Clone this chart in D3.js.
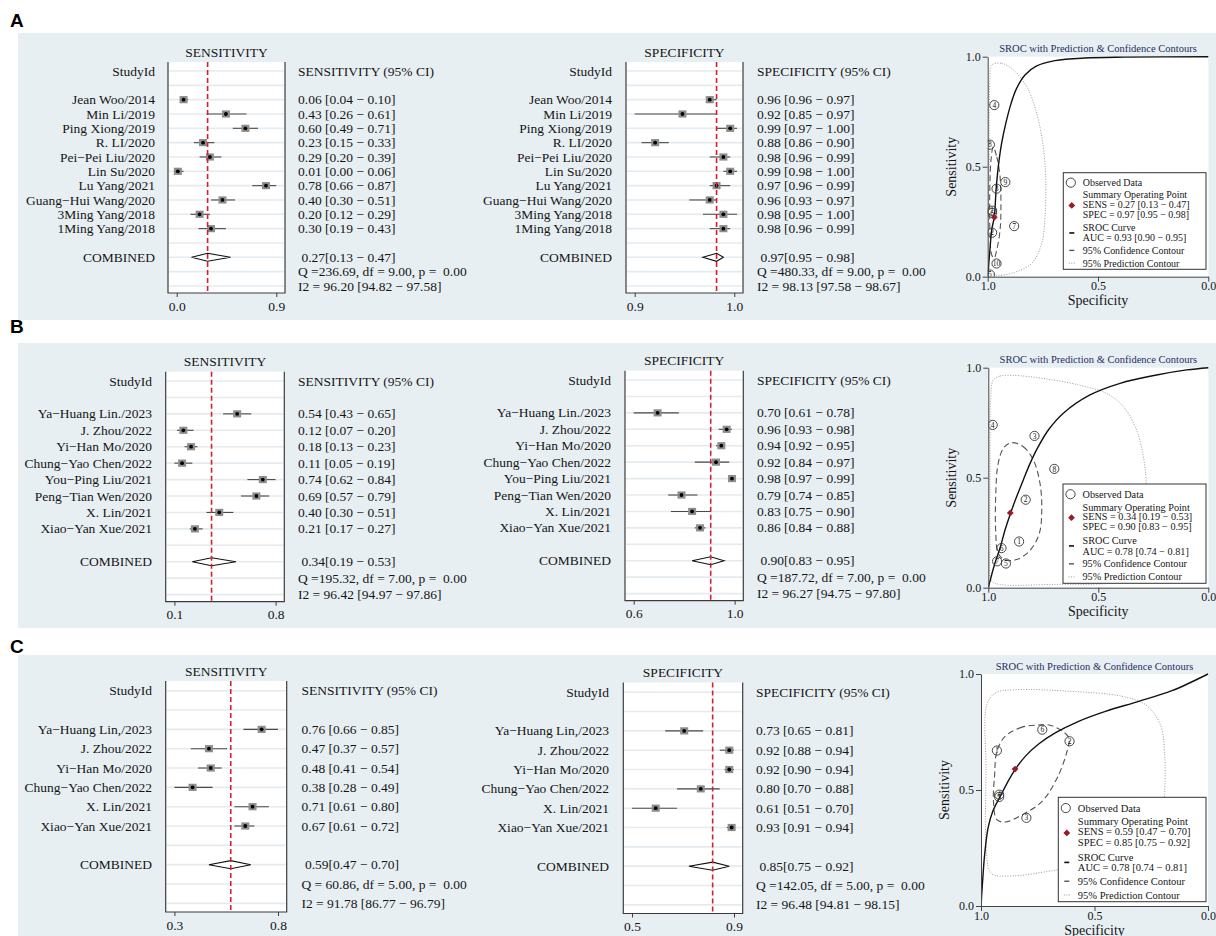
<!DOCTYPE html>
<html lang="en">
<head>
<meta charset="UTF-8">
<title>Forest plots and SROC curves</title>
<script src="https://cdn.jsdelivr.net/npm/d3@7.9.0/dist/d3.min.js"></script>
<style>
    body { margin: 0; background: #fff; }
    svg { display: block; }
    text {
        font-family: "Liberation Serif", "Times New Roman", serif;
        fill: #151515;
        white-space: pre;
    }
    .letter {
        font-family: "Liberation Sans", Arial, sans-serif;
        font-weight: bold;
        font-size: 19px;
        fill: #000;
    }
</style>
</head>
<body>
<svg id="fig" width="1216" height="936"></svg>
<script>
// ---------- Panel A ----------
const studiesA = ["Jean Woo/2014", "Min Li/2019", "Ping Xiong/2019", "R. LI/2020", "Pei−Pei Liu/2020",
    "Lin Su/2020", "Lu Yang/2021", "Guang−Hui Wang/2020", "3Ming Yang/2018", "1Ming Yang/2018"];
const sensA   = [0.06, 0.43, 0.60, 0.23, 0.29, 0.01, 0.78, 0.40, 0.20, 0.30];
const sensLoA = [0.04, 0.26, 0.49, 0.15, 0.20, 0.00, 0.66, 0.30, 0.12, 0.19];
const sensHiA = [0.10, 0.61, 0.71, 0.33, 0.39, 0.06, 0.87, 0.51, 0.29, 0.43];
const specA   = [0.96, 0.92, 0.99, 0.88, 0.98, 0.99, 0.97, 0.96, 0.98, 0.98];
const specLoA = [0.96, 0.85, 0.97, 0.86, 0.96, 0.98, 0.96, 0.93, 0.95, 0.96];
const specHiA = [0.97, 0.97, 1.00, 0.90, 0.99, 1.00, 0.99, 0.97, 1.00, 0.99];
const pooledSensA = [0.27, 0.13, 0.47];
const pooledSpecA = [0.97, 0.95, 0.98];
const qSensA = [236.69, 9.00, 0.00], i2SensA = [96.20, 94.82, 97.58];
const qSpecA = [480.33, 9.00, 0.00], i2SpecA = [98.13, 97.58, 98.67];
const sensTicksA = [0.00, 0.87], sensTickLabelsA = ["0.0", "0.9"];
const specTicksA = [0.85, 0.996], specTickLabelsA = ["0.9", "1.0"];
const aucA = [0.93, 0.90, 0.95];
// SROC curve and contours as (specificity, sensitivity)
const curveSpecA = [1.0, 0.990, 0.982, 0.970, 0.962, 0.952, 0.937, 0.918, 0.894, 0.869, 0.831, 0.778, 0.695, 0.559, 0.378, 0.0];
const curveSensA = [0.0, 0.121, 0.212, 0.273, 0.394, 0.500, 0.606, 0.697, 0.788, 0.856, 0.917, 0.958, 0.982, 0.994, 0.998, 1.0];
const confSpecA = [0.975, 0.959, 0.944, 0.940, 0.944, 0.959, 0.971, 0.982, 0.989, 0.991, 0.990, 0.985];
const confSensA = [0.590, 0.545, 0.455, 0.318, 0.212, 0.121, 0.084, 0.100, 0.180, 0.300, 0.420, 0.530];
const predSpecA = [0.982, 0.937, 0.884, 0.823, 0.778, 0.748, 0.737, 0.740, 0.755, 0.800, 0.884, 0.967, 0.990, 0.993, 0.990];
const predSensA = [0.962, 0.970, 0.940, 0.864, 0.743, 0.590, 0.440, 0.273, 0.152, 0.061, 0.018, 0.008, 0.030, 0.515, 0.894];

// ---------- Panel B ----------
const studiesB = ["Ya−Huang Lin./2023", "J. Zhou/2022", "Yi−Han Mo/2020", "Chung−Yao Chen/2022",
    "You−Ping Liu/2021", "Peng−Tian Wen/2020", "X. Lin/2021", "Xiao−Yan Xue/2021"];
const sensB   = [0.54, 0.12, 0.18, 0.11, 0.74, 0.69, 0.40, 0.21];
const sensLoB = [0.43, 0.07, 0.13, 0.05, 0.62, 0.57, 0.30, 0.17];
const sensHiB = [0.65, 0.20, 0.23, 0.19, 0.84, 0.79, 0.51, 0.27];
const specB   = [0.70, 0.96, 0.94, 0.92, 0.98, 0.79, 0.83, 0.86];
const specLoB = [0.61, 0.93, 0.92, 0.84, 0.97, 0.74, 0.75, 0.84];
const specHiB = [0.78, 0.98, 0.95, 0.97, 0.99, 0.85, 0.90, 0.88];
const pooledSensB = [0.34, 0.19, 0.53];
const pooledSpecB = [0.90, 0.83, 0.95];
const qSensB = [195.32, 7.00, 0.00], i2SensB = [96.42, 94.97, 97.86];
const qSpecB = [187.72, 7.00, 0.00], i2SpecB = [96.27, 94.75, 97.80];
const sensTicksB = [0.05, 0.84], sensTickLabelsB = ["0.1", "0.8"];
const specTicksB = [0.61, 0.99], specTickLabelsB = ["0.6", "1.0"];
const aucB = [0.78, 0.74, 0.81];
const curveSpecB = [1.0, 0.970, 0.947, 0.924, 0.898, 0.871, 0.841, 0.810, 0.773, 0.727, 0.659, 0.538, 0.401, 0.235, 0.098, 0.0];
const curveSensB = [0.0, 0.111, 0.179, 0.262, 0.341, 0.414, 0.490, 0.565, 0.641, 0.717, 0.793, 0.876, 0.929, 0.967, 0.990, 1.0];
const confSpecB = [0.894, 0.841, 0.795, 0.765, 0.757, 0.768, 0.810, 0.871, 0.924, 0.955, 0.966, 0.966, 0.955, 0.929];
const confSensB = [0.659, 0.641, 0.580, 0.474, 0.353, 0.247, 0.170, 0.128, 0.126, 0.156, 0.247, 0.429, 0.565, 0.637];
const predSpecB = [0.977, 0.947, 0.886, 0.735, 0.583, 0.462, 0.386, 0.326, 0.295, 0.283, 0.285, 0.300, 0.350, 0.450, 0.700, 0.950, 0.985, 0.992, 0.992, 0.990];
const predSensB = [0.944, 0.962, 0.965, 0.949, 0.920, 0.883, 0.823, 0.717, 0.595, 0.490, 0.300, 0.120, 0.040, 0.020, 0.015, 0.015, 0.030, 0.200, 0.600, 0.850];

// ---------- Panel C ----------
const studiesC = ["Ya−Huang Lin,/2023", "J. Zhou/2022", "Yi−Han Mo/2020", "Chung−Yao Chen/2022",
    "X. Lin/2021", "Xiao−Yan Xue/2021"];
const sensC   = [0.76, 0.47, 0.48, 0.38, 0.71, 0.67];
const sensLoC = [0.66, 0.37, 0.41, 0.28, 0.61, 0.61];
const sensHiC = [0.85, 0.57, 0.54, 0.49, 0.80, 0.72];
const specC   = [0.73, 0.92, 0.92, 0.80, 0.61, 0.93];
const specLoC = [0.65, 0.88, 0.90, 0.70, 0.51, 0.91];
const specHiC = [0.81, 0.94, 0.94, 0.88, 0.70, 0.94];
const pooledSensC = [0.59, 0.47, 0.70];
const pooledSpecC = [0.85, 0.75, 0.92];
const qSensC = [60.86, 5.00, 0.00], i2SensC = [91.78, 86.77, 96.79];
const qSpecC = [142.05, 5.00, 0.00], i2SpecC = [96.48, 94.81, 98.15];
const sensTicksC = [0.28, 0.85], sensTickLabelsC = ["0.3", "0.8"];
const specTicksC = [0.51, 0.94], specTickLabelsC = ["0.5", "0.9"];
const aucC = [0.78, 0.74, 0.81];
const curveSpecC = [1.0, 0.993, 0.984, 0.969, 0.948, 0.915, 0.885, 0.852, 0.805, 0.746, 0.673, 0.570, 0.452, 0.305, 0.159, 0.0];
const curveSensC = [0.0, 0.106, 0.221, 0.336, 0.408, 0.473, 0.530, 0.585, 0.645, 0.698, 0.746, 0.796, 0.839, 0.882, 0.928, 1.0];
const confSpecC = [0.746, 0.819, 0.893, 0.930, 0.940, 0.945, 0.930, 0.893, 0.819, 0.731, 0.665, 0.621, 0.613, 0.650, 0.701];
const confSensC = [0.780, 0.771, 0.732, 0.667, 0.566, 0.451, 0.372, 0.362, 0.393, 0.451, 0.551, 0.667, 0.724, 0.759, 0.780];
const predSpecC = [0.974, 0.937, 0.849, 0.599, 0.379, 0.276, 0.210, 0.191, 0.191, 0.200, 0.260, 0.450, 0.668, 0.859, 0.955, 0.975, 0.978];
const predSensC = [0.868, 0.918, 0.932, 0.925, 0.904, 0.868, 0.782, 0.652, 0.480, 0.350, 0.250, 0.190, 0.155, 0.130, 0.140, 0.220, 0.594];

// ---------- layout ----------
const svg = d3.select("#fig");
const f2 = d3.format(".2f");
const redLine = "#d3202d";
const markRed = "#9a1b24";

const panels = [
    {
        letter: "A", letterY: 27, bg: [18, 33, 1198, 287],
        studies: studiesA,
        sens: {est: sensA, lo: sensLoA, hi: sensHiA, pooled: pooledSensA, q: qSensA, i2: i2SensA,
               ticks: sensTicksA, tickLabels: sensTickLabelsA},
        spec: {est: specA, lo: specLoA, hi: specHiA, pooled: pooledSpecA, q: qSpecA, i2: i2SpecA,
               ticks: specTicksA, tickLabels: specTickLabelsA},
        rows: {y0: 71, step: 14.33, top: 62, bot: 293},
        sensBox: [168, 285], sensLabelX: 155, sensCiX: 298,
        specBox: [626, 743], specLabelX: 612, specCiX: 757, specDy: 0,
        auc: aucA,
        curve: [curveSpecA, curveSensA], conf: [confSpecA, confSensA], pred: [predSpecA, predSensA],
        sroc: {x0: 987.7, x1: 1208.3, yTop: 56.7, yBot: 276.7, leg: [1063.3, 172.7, 142.7, 96.6]}
    },
    {
        letter: "B", letterY: 333, bg: [18, 343, 1198, 285],
        studies: studiesB,
        sens: {est: sensB, lo: sensLoB, hi: sensHiB, pooled: pooledSensB, q: qSensB, i2: i2SensB,
               ticks: sensTicksB, tickLabels: sensTickLabelsB},
        spec: {est: specB, lo: specLoB, hi: specHiB, pooled: pooledSpecB, q: qSpecB, i2: i2SpecB,
               ticks: specTicksB, tickLabels: specTickLabelsB},
        rows: {y0: 381, step: 16.43, top: 371.7, bot: 601.7},
        sensBox: [165.7, 284.3], sensLabelX: 152, sensCiX: 298,
        specBox: [625, 743.3], specLabelX: 611, specCiX: 757, specDy: -1,
        auc: aucB,
        curve: [curveSpecB, curveSensB], conf: [confSpecB, confSensB], pred: [predSpecB, predSensB],
        sroc: {x0: 988.3, x1: 1208.3, yTop: 367.7, yBot: 587.7, leg: [1063, 484, 143, 99.3]}
    },
    {
        letter: "C", letterY: 653, bg: [18, 655, 1198, 281],
        studies: studiesC,
        sens: {est: sensC, lo: sensLoC, hi: sensHiC, pooled: pooledSensC, q: qSensC, i2: i2SensC,
               ticks: sensTicksC, tickLabels: sensTickLabelsC},
        spec: {est: specC, lo: specLoC, hi: specHiC, pooled: pooledSpecC, q: qSpecC, i2: i2SpecC,
               ticks: specTicksC, tickLabels: specTickLabelsC},
        rows: {y0: 690.7, step: 19.33, top: 681, bot: 912},
        sensBox: [165.7, 286.7], sensLabelX: 152, sensCiX: 301.5,
        specBox: [623.3, 742.7], specLabelX: 609, specCiX: 756, specDy: 1.5,
        auc: aucC,
        curve: [curveSpecC, curveSensC], conf: [confSpecC, confSensC], pred: [predSpecC, predSensC],
        sroc: {x0: 981, x1: 1208, yTop: 674, yBot: 906, leg: [1058.3, 797.3, 147.7, 104.4]}
    }
];

panels.forEach(p => {
    svg.append("rect")
        .attr("x", p.bg[0]).attr("y", p.bg[1]).attr("width", p.bg[2]).attr("height", p.bg[3])
        .attr("fill", "#e8eff3");
    svg.append("text").attr("class", "letter").attr("x", 10).attr("y", p.letterY).text(p.letter);

    drawForest(svg.append("g"), {
        title: "SENSITIVITY", labels: p.studies, ...p.sens,
        box: p.sensBox, labelX: p.sensLabelX, ciX: p.sensCiX, rows: p.rows, dy: 0
    });
    drawForest(svg.append("g"), {
        title: "SPECIFICITY", labels: p.studies, ...p.spec,
        box: p.specBox, labelX: p.specLabelX, ciX: p.specCiX, rows: p.rows, dy: p.specDy
    });
    drawSroc(svg.append("g"), p);
});

// ---------- forest plot ----------
function drawForest(g, o) {
    const n = o.labels.length;
    const fs = 13.5;
    const base = fs * 0.34;
    const rowY = i => o.rows.y0 + o.dy + i * o.rows.step;
    const top = o.rows.top + o.dy, bot = o.rows.bot + o.dy;
    const [bl, br] = o.box;
    const x = d3.scaleLinear().domain(o.ticks).range([bl + 8.7, br - 8.7]);

    g.append("rect").attr("x", bl).attr("y", top).attr("width", br - bl).attr("height", bot - top)
        .attr("fill", "#fff");

    // faint row lines
    g.append("g").selectAll("line").data(d3.range(n + 6)).join("line")
        .attr("x1", bl + 1).attr("x2", br - 1)
        .attr("y1", rowY).attr("y2", rowY)
        .attr("stroke", "#e3ebf0").attr("stroke-width", 1.6);

    // box frame: left, bottom, right
    g.append("path")
        .attr("d", `M${bl},${top}V${bot}H${br}V${top}`)
        .attr("fill", "none").attr("stroke", "#3c3c3c").attr("stroke-width", 1.2);

    const ax = g.append("g").attr("transform", `translate(0,${bot})`)
        .call(d3.axisBottom(x).tickValues(o.ticks)
            .tickFormat((d, i) => o.tickLabels[i]).tickSize(4).tickPadding(4));
    ax.select(".domain").remove();
    ax.attr("font-size", fs);
    ax.selectAll("line").attr("stroke", "#3c3c3c");

    // study rows
    const rows = g.append("g").selectAll("g").data(o.labels).join("g")
        .attr("transform", (d, i) => `translate(0,${rowY(i + 2)})`);
    rows.append("line")
        .attr("x1", (d, i) => x(o.lo[i])).attr("x2", (d, i) => x(o.hi[i]))
        .attr("stroke", "#4a4a4a").attr("stroke-width", 1.1);
    rows.append("rect")
        .attr("x", (d, i) => x(o.est[i]) - 4).attr("y", -3.6)
        .attr("width", 8).attr("height", 7.2)
        .attr("fill", "#8d8d8d");
    rows.append("circle")
        .attr("cx", (d, i) => x(o.est[i])).attr("r", 1.9).attr("fill", "#000");
    rows.append("text")
        .attr("x", o.labelX).attr("y", base).attr("text-anchor", "end").attr("font-size", fs)
        .text(d => d);
    rows.append("text")
        .attr("x", o.ciX).attr("y", base).attr("font-size", fs)
        .text((d, i) => `${f2(o.est[i])} [${f2(o.lo[i])} − ${f2(o.hi[i])}]`);

    // pooled diamond
    const cy = rowY(n + 3);
    const pd = o.pooled;
    g.append("path")
        .attr("d", `M${x(pd[1])},${cy}L${x(pd[0])},${cy - 4}L${x(pd[2])},${cy}L${x(pd[0])},${cy + 4}Z`)
        .attr("fill", "#fff").attr("stroke", "#111").attr("stroke-width", 1.1);

    // pooled estimate reference line
    g.append("line")
        .attr("x1", x(pd[0])).attr("x2", x(pd[0])).attr("y1", top).attr("y2", bot)
        .attr("stroke", redLine).attr("stroke-width", 1.6).attr("stroke-dasharray", "5,3");

    // texts
    const txt = (xx, yy, s, anchor) => g.append("text")
        .attr("x", xx).attr("y", yy + base).attr("font-size", fs)
        .attr("text-anchor", anchor || "start").text(s);
    txt((bl + br) / 2, top - 10, o.title, "middle");
    txt(o.labelX, rowY(0), "StudyId", "end");
    txt(o.ciX, rowY(0), `${o.title} (95% CI)`);
    txt(o.labelX, cy, "COMBINED", "end");
    txt(o.ciX, cy, ` ${f2(pd[0])}[${f2(pd[1])} − ${f2(pd[2])}]`);
    txt(o.ciX, rowY(n + 4),
        `Q =${d3.format("6.2f")(o.q[0])}, df = ${f2(o.q[1])}, p = ${d3.format("5.2f")(o.q[2])}`);
    txt(o.ciX, rowY(n + 5), `I2 = ${f2(o.i2[0])} [${f2(o.i2[1])} − ${f2(o.i2[2])}]`);
}

// ---------- SROC plot ----------
function drawSroc(g, p) {
    const s = p.sroc;
    const x = d3.scaleLinear().domain([1, 0]).range([s.x0, s.x1]);
    const y = d3.scaleLinear().domain([0, 1]).range([s.yBot, s.yTop]);
    const line = d3.line().x(d => x(d[0])).y(d => y(d[1]));

    g.append("rect").attr("x", s.x0).attr("y", s.yTop)
        .attr("width", s.x1 - s.x0).attr("height", s.yBot - s.yTop).attr("fill", "#fff");

    const clipId = "clip" + p.letter;
    g.append("clipPath").attr("id", clipId).append("rect")
        .attr("x", s.x0).attr("y", s.yTop - 2).attr("width", s.x1 - s.x0 + 2).attr("height", s.yBot - s.yTop + 2);
    const plot = g.append("g").attr("clip-path", `url(#${clipId})`);

    plot.append("path")
        .attr("d", line.curve(d3.curveCatmullRomClosed)(d3.zip(p.pred[0], p.pred[1])))
        .attr("fill", "none").attr("stroke", "#9a9a9a").attr("stroke-width", 1)
        .attr("stroke-dasharray", "1,1.6");
    plot.append("path")
        .attr("d", line.curve(d3.curveCatmullRomClosed)(d3.zip(p.conf[0], p.conf[1])))
        .attr("fill", "none").attr("stroke", "#555").attr("stroke-width", 1.1)
        .attr("stroke-dasharray", "6,3.5");
    plot.append("path")
        .attr("d", line.curve(d3.curveCatmullRom)(d3.zip(p.curve[0], p.curve[1])))
        .attr("fill", "none").attr("stroke", "#111").attr("stroke-width", 1.4);

    // observed studies, numbered in reverse of the forest order
    const n = p.studies.length;
    const obs = plot.append("g").selectAll("g").data(p.studies).join("g")
        .attr("transform", (d, i) => `translate(${x(p.spec.est[i])},${y(p.sens.est[i])})`);
    obs.append("circle").attr("r", 4.6).attr("fill", "none").attr("stroke", "#333").attr("stroke-width", 0.9);
    obs.append("text").attr("text-anchor", "middle").attr("y", 2.6).attr("font-size", 7.5)
        .text((d, i) => n - i);

    // summary operating point
    const sx = x(p.spec.pooled[0]), sy = y(p.sens.pooled[0]);
    plot.append("path")
        .attr("d", `M${sx},${sy - 3.4}L${sx + 3.4},${sy}L${sx},${sy + 3.4}L${sx - 3.4},${sy}Z`)
        .attr("fill", markRed);

    // legend
    const [lx, ly, lw, lh] = s.leg;
    const k = lh / 97;
    const lfs = 10 * Math.min(k, 1.05);
    const lg = g.append("g");
    lg.append("rect").attr("x", lx).attr("y", ly).attr("width", lw).attr("height", lh)
        .attr("fill", "#fff").attr("stroke", "#333").attr("stroke-width", 1);
    const tx = lx + 19.5;
    const sym = lx + 8.5;
    const rowsL = [10, 22.5, 32, 41.7, 55.5, 65.5, 78, 90.8].map(v => ly + v * k);
    const sp = p.spec.pooled, se = p.sens.pooled;
    const legTexts = [
        "Observed Data",
        "Summary Operating Point",
        `SENS = ${f2(se[0])} [${f2(se[1])} − ${f2(se[2])}]`,
        `SPEC = ${f2(sp[0])} [${f2(sp[1])} − ${f2(sp[2])}]`,
        "SROC Curve",
        `AUC = ${f2(p.auc[0])} [${f2(p.auc[1])} − ${f2(p.auc[2])}]`,
        "95% Confidence Contour",
        "95% Prediction Contour"
    ];
    lg.selectAll("text").data(legTexts).join("text")
        .attr("x", tx).attr("y", (d, i) => rowsL[i] + lfs * 0.34).attr("font-size", lfs)
        .text(d => d);
    lg.append("circle").attr("cx", sym - 1).attr("cy", rowsL[0]).attr("r", 4.6)
        .attr("fill", "none").attr("stroke", "#333").attr("stroke-width", 0.9);
    const dy = (rowsL[2] + rowsL[3]) / 2 - 4;
    lg.append("path")
        .attr("d", `M${sym},${dy - 3.4}L${sym + 3.4},${dy}L${sym},${dy + 3.4}L${sym - 3.4},${dy}Z`)
        .attr("fill", markRed);
    const cyS = (rowsL[4] + rowsL[5]) / 2;
    lg.append("line").attr("x1", sym - 2.5).attr("x2", sym + 2.5).attr("y1", cyS).attr("y2", cyS)
        .attr("stroke", "#111").attr("stroke-width", 1.6);
    lg.append("line").attr("x1", sym - 2.5).attr("x2", sym + 2.5).attr("y1", rowsL[6]).attr("y2", rowsL[6])
        .attr("stroke", "#555").attr("stroke-width", 1.4);
    lg.append("line").attr("x1", sym - 3).attr("x2", sym + 3).attr("y1", rowsL[7]).attr("y2", rowsL[7])
        .attr("stroke", "#999").attr("stroke-width", 1).attr("stroke-dasharray", "1,1.5");

    // axes
    const ya = g.append("g").attr("transform", `translate(${s.x0},0)`)
        .call(d3.axisLeft(y).tickValues([0, 0.5, 1]).tickFormat(d3.format(".1f"))
            .tickSize(5).tickPadding(2).tickSizeOuter(0));
    const xa = g.append("g").attr("transform", `translate(0,${s.yBot})`)
        .call(d3.axisBottom(x).tickValues([1, 0.5, 0]).tickFormat(d3.format(".1f"))
            .tickSize(5).tickPadding(0).tickSizeOuter(0));
    [ya, xa].forEach(a => {
        a.attr("font-size", 12);
        a.selectAll("path, line").attr("stroke", "#444");
    });

    g.append("text").attr("x", (s.x0 + s.x1) / 2).attr("y", s.yTop - 4.5)
        .attr("text-anchor", "middle").attr("font-size", 10.5).style("fill", "#252d5c")
        .text("SROC with Prediction & Confidence Contours");
    g.append("text").attr("x", (s.x0 + s.x1) / 2).attr("y", s.yBot + 28.5)
        .attr("text-anchor", "middle").attr("font-size", 14).text("Specificity");
    g.append("text")
        .attr("transform", `translate(${s.x0 - 32},${(s.yTop + s.yBot) / 2}) rotate(-90)`)
        .attr("text-anchor", "middle").attr("font-size", 14).text("Sensitivity");
}
</script>
</body>
</html>
